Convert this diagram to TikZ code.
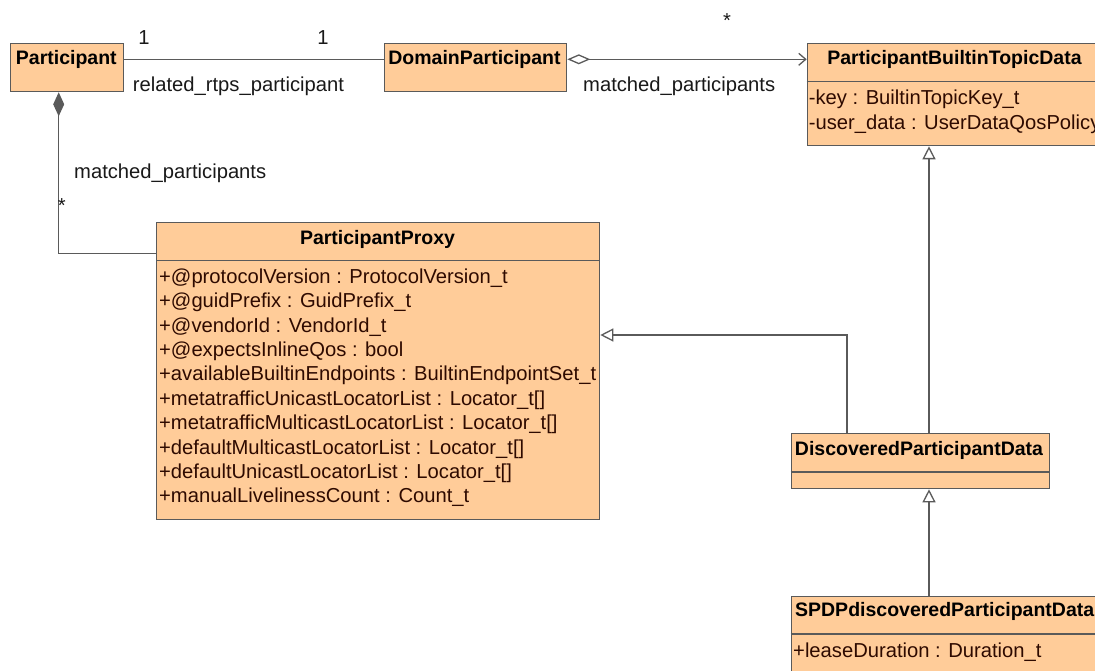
\documentclass[tikz,border=0pt]{standalone}
\usepackage{fontspec}
\setmainfont{Liberation Sans}
\usetikzlibrary{arrows.meta}
\definecolor{classfill}{HTML}{FFCC99}
\definecolor{classline}{HTML}{5A5A5A}
\definecolor{attrtext}{HTML}{2E0A00}
\tikzset{my class/.style={draw=classline, fill=classfill, line width=1.3pt, anchor=north west, inner sep=0pt},
my title/.style={anchor=base, inner sep=0pt, font=\fontsize{19.5}{24}\selectfont\bfseries},
my attr/.style={anchor=base west, inner sep=0pt, text=attrtext, font=\fontsize{20.2}{24}\selectfont},
my label/.style={anchor=base west, inner sep=0pt, text=black!90, font=\fontsize{20.2}{24}\selectfont},
my link/.style={draw=classline, line width=1.3pt},
my generalization/.style={my link, -{Triangle[open, length=13pt, width=13pt]}},
my aggregation/.style={my link, {Diamond[open, length=23pt, width=10pt]}-{Straight Barb[length=7pt, width=12pt]}},
my composition/.style={my link, {Diamond[length=24pt, width=11pt]}-},}

\begin{document}
\begin{tikzpicture}[x=1pt, y=-1pt]
\useasboundingbox (0,0) rectangle (1095,671);
\clip (0,0) rectangle (1095,671);
% class boxes
\node [my class, minimum width=112.7pt, minimum height=48.3pt] (participant) at ( 10.000000, 42.700000) {};
\node [my class, minimum width=182.0pt, minimum height=48.3pt] (domain) at (384.000000, 42.700000) {};
\node [my class, minimum width=296.0pt, minimum height=102.3pt] (pbtd) at (806.700000, 42.700000) {};
\node [my class, minimum width=443.0pt, minimum height=297.3pt] (proxy) at (156.000000, 221.700000) {};
\node [my class, minimum width=258.3pt, minimum height=55.3pt] (dpd) at (790.700000, 432.700000) {};
\node [my class, minimum width=308.0pt, minimum height=120.0pt] (spdp) at (790.700000, 595.700000) {};
% compartments
\draw [my link] (pbtd.west |- 0, 81.7) -- (pbtd.east |- 0, 81.7);
\draw [my link] (proxy.west |- 0,260.7) -- (proxy.east |- 0,260.7);
\draw [my link] (dpd.west |- 0,472.0) -- (dpd.east |- 0,472.0);
\draw [my link] (spdp.west |- 0,634.0) -- (spdp.east |- 0,634.0);
% titles
\node [my title] (participant title) at ( 66.300000, 64.500000) {Participant};
\node [my title] (domain title) at (474.500000, 64.500000) {DomainParticipant};
\node [my title] (pbtd title) at (954.500000, 65.000000) {ParticipantBuiltinTopicData};
\node [my title] (proxy title) at (377.500000,244.300000) {ParticipantProxy};
\node [my title] (dpd title) at (919.000000,455.000000) {DiscoveredParticipantData};
\node [my title] (spdp title) at (944.700000,616.700000) {SPDPdiscoveredParticipantData};
% attributes
\node [my attr] (pbtd a1) at (808.700000,105.000000) {-key : BuiltinTopicKey\_t};
\node [my attr] (pbtd a2) at (808.700000,129.400000) {-user\_data : UserDataQosPolicy};
\node [my attr] (proxy a1) at (159.000000,283.300000) {+@protocolVersion : ProtocolVersion\_t};
\node [my attr] (proxy a2) at (159.000000,307.700000) {+@guidPrefix : GuidPrefix\_t};
\node [my attr] (proxy a3) at (159.000000,332.100000) {+@vendorId : VendorId\_t};
\node [my attr] (proxy a4) at (159.000000,356.500000) {+@expectsInlineQos : bool};
\node [my attr] (proxy a5) at (159.000000,380.900000) {+availableBuiltinEndpoints : BuiltinEndpointSet\_t};
\node [my attr] (proxy a6) at (159.000000,405.300000) {+metatrafficUnicastLocatorList : Locator\_t[]};
\node [my attr] (proxy a7) at (159.000000,429.700000) {+metatrafficMulticastLocatorList : Locator\_t[]};
\node [my attr] (proxy a8) at (159.000000,454.100000) {+defaultMulticastLocatorList : Locator\_t[]};
\node [my attr] (proxy a9) at (159.000000,478.500000) {+defaultUnicastLocatorList : Locator\_t[]};
\node [my attr] (proxy a10) at (159.000000,502.900000) {+manualLivelinessCount : Count\_t};
\node [my attr] (spdp a1) at (793.000000,657.700000) {+leaseDuration : Duration\_t};
% associations
\draw [my link] ([yshift=-16.6pt]participant.north east) -- ([yshift=-16.6pt]domain.north west);
\draw [my aggregation] ([yshift=-16.6pt]domain.north east) -- ([yshift=-16.6pt]pbtd.north west);
\draw [my composition] ([xshift=48.7pt]participant.south west) |- ([yshift=-31.6pt]proxy.north west);
\draw [my generalization] ([xshift=56.3pt]dpd.north west) |- ([yshift=-113.3pt]proxy.north east);
\draw [my generalization] ([xshift=138.3pt]dpd.north west) -- ([xshift=122.3pt]pbtd.south west);
\draw [my generalization] ([xshift=138.3pt]spdp.north west) -- ([xshift=138.3pt]dpd.south west);
% association labels
\node [my label, anchor=base] (one left) at (144.000000, 45.000000) {1};
\node [my label, anchor=base] (one right) at (323.000000, 45.000000) {1};
\node [my label] (related) at (132.700000, 91.700000) {related\_rtps\_participant};
\node [my label, anchor=base] (many top) at (727.000000, 27.300000) {*};
\node [my label] (matched top) at (583.000000, 91.700000) {matched\_participants};
\node [my label] (matched left) at ( 74.000000,178.300000) {matched\_participants};
\node [my label, anchor=base] (many left) at ( 61.700000,213.000000) {*};
\end{tikzpicture}
\end{document}
